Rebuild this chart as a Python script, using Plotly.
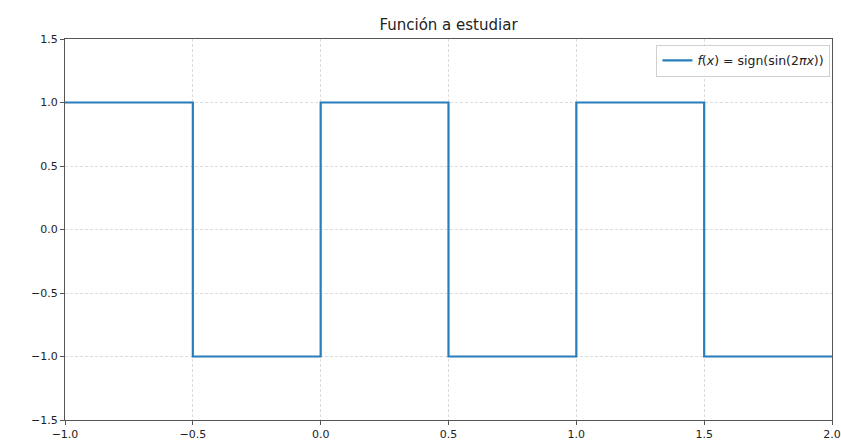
import plotly.graph_objects as go

x_vals = [-1.0, -0.5, 0.0, 0.5, 1.0, 1.5, 2.0]
y_vals = [1, -1, 1, -1, 1, -1, -1]
x_ticks = [-1.0, -0.5, 0.0, 0.5, 1.0, 1.5, 2.0]
y_ticks = [-1.5, -1.0, -0.5, 0.0, 0.5, 1.0, 1.5]
x_tick_text = ["\u22121.0", "\u22120.5", "0.0", "0.5", "1.0", "1.5", "2.0"]
y_tick_text = ["\u22121.5", "\u22121.0", "\u22120.5", "0.0", "0.5", "1.0", "1.5"]

fig = go.Figure()
fig.add_trace(go.Scatter(
    x=x_vals, y=y_vals, mode="lines", line_shape="hv",
    line=dict(color="#2a7dbb", width=2.2),
    name="<i>f</i>(<i>x</i>) = sign(sin(2<i>πx</i>))",
))

axis_common = dict(
    showline=True, linecolor="#555555", linewidth=1.2, mirror=True,
    ticks="outside", ticklen=4, tickcolor="#555555",
    showgrid=True, gridcolor="#dcdcdc", griddash="3px,2px", gridwidth=1,
    zeroline=False, tickfont=dict(size=11, color="#222222"), automargin=False,
)
fig.update_xaxes(range=[-1, 2], tickvals=x_ticks, ticktext=x_tick_text, **axis_common)
fig.update_yaxes(range=[-1.5, 1.5], tickvals=y_ticks, ticktext=y_tick_text, **axis_common)

fig.update_layout(
    width=841, height=446,
    margin=dict(l=65, r=9, t=39, b=26),
    paper_bgcolor="white", plot_bgcolor="white",
    font=dict(family="DejaVu Sans", size=11, color="#222222"),
    title=dict(text="Función a estudiar", x=0.5, xref="paper", xanchor="center",
               y=1 - 25/446, yanchor="middle", font=dict(size=15)),
    showlegend=True,
    legend=dict(x=0.998, y=0.985, xanchor="right", yanchor="top",
                bgcolor="rgba(255,255,255,0.8)", bordercolor="#d0d0d0", borderwidth=1,
                font=dict(size=12.5)),
)
fig.write_html("out.html", config={"displayModeBar": False},
               post_script="document.body.style.margin='0';document.body.style.overflow='hidden';")
